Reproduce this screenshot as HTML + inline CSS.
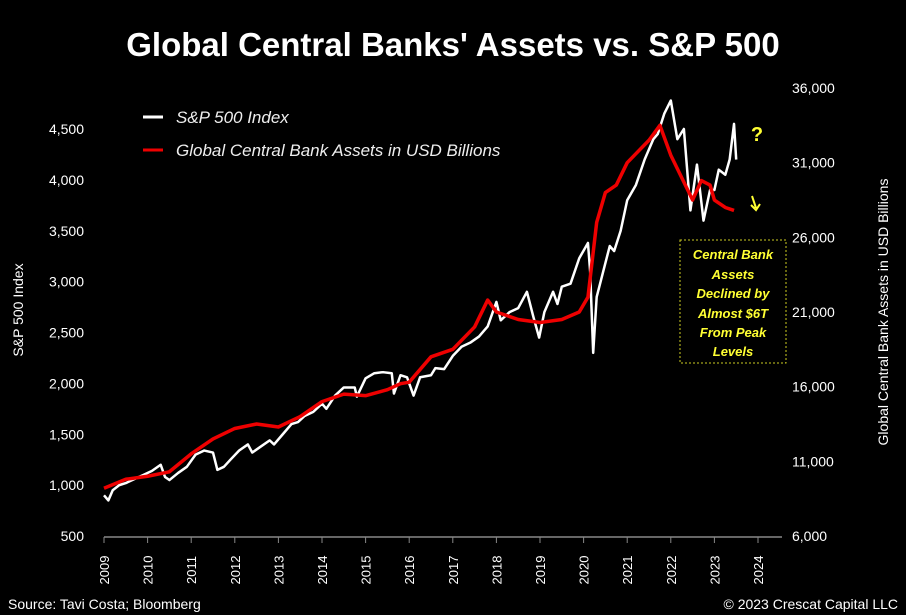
<!DOCTYPE html>
<html><head><meta charset="utf-8"><style>
body{margin:0;background:#000;}
svg{display:block;font-family:"Liberation Sans",sans-serif;}
</style></head><body>
<svg id="c" width="906" height="615" viewBox="0 0 906 615">
<rect width="906" height="615" fill="#000"/>
<text x="453" y="56" fill="#fff" font-size="33" font-weight="bold" text-anchor="middle">Global Central Banks' Assets vs. S&amp;P 500</text>
<g id="axes"></g>
<g id="series"></g>
<line x1="143" y1="117" x2="163" y2="117" stroke="#fff" stroke-width="3"/>
<text x="176" y="123" fill="#eee" font-size="17" font-style="italic">S&amp;P 500 Index</text>
<line x1="143" y1="150" x2="163" y2="150" stroke="#e00" stroke-width="3"/>
<text x="176" y="156" fill="#eee" font-size="17" font-style="italic">Global Central Bank Assets in USD Billions</text>
<text x="757" y="141" fill="#ffff33" font-size="20" font-weight="bold" text-anchor="middle">?</text>
<path d="M752 196 L756 208 M751 205 L756 210 L760 204" stroke="#ffff33" stroke-width="2" fill="none"/>
<rect x="680" y="240" width="106" height="123" fill="none" stroke="#cccc22" stroke-width="1" stroke-dasharray="2,2"/>
<g fill="#ffff33" font-size="13" font-weight="bold" font-style="italic" text-anchor="middle">
<text x="733" y="259">Central Bank</text><text x="733" y="279">Assets</text><text x="733" y="298">Declined by</text><text x="733" y="318">Almost $6T</text><text x="733" y="337">From Peak</text><text x="733" y="356">Levels</text></g>
<text transform="translate(23,310) rotate(-90)" fill="#fff" font-size="14" text-anchor="middle">S&amp;P 500 Index</text>
<text transform="translate(888,312) rotate(-90)" fill="#fff" font-size="14" text-anchor="middle">Global Central Bank Assets in USD Billions</text>
<text x="8" y="609" fill="#fff" font-size="14">Source: Tavi Costa; Bloomberg</text>
<text x="898" y="609" fill="#fff" font-size="14" text-anchor="end">© 2023 Crescat Capital LLC</text>
</svg>
<script>
const years=[2009,2010,2011,2012,2013,2014,2015,2016,2017,2018,2019,2020,2021,2022,2023,2024];
const leftTicks=[500,1000,1500,2000,2500,3000,3500,4000,4500];
const rightTicks=[6000,11000,16000,21000,26000,31000,36000];
const spT=[2009.0,2009.1,2009.2,2009.35,2009.5,2009.7,2009.9,2010.1,2010.3,2010.4,2010.5,2010.7,2010.9,2011.1,2011.3,2011.5,2011.6,2011.75,2011.9,2012.1,2012.3,2012.4,2012.6,2012.8,2012.9,2013.1,2013.3,2013.45,2013.6,2013.8,2014.0,2014.1,2014.3,2014.5,2014.75,2014.8,2015.0,2015.2,2015.4,2015.6,2015.65,2015.8,2015.95,2016.1,2016.25,2016.5,2016.6,2016.8,2017.0,2017.2,2017.4,2017.6,2017.8,2018.0,2018.1,2018.3,2018.5,2018.7,2018.85,2018.98,2019.1,2019.3,2019.4,2019.5,2019.7,2019.9,2020.1,2020.15,2020.22,2020.3,2020.45,2020.6,2020.7,2020.85,2021.0,2021.2,2021.4,2021.6,2021.7,2021.85,2022.0,2022.15,2022.3,2022.45,2022.6,2022.75,2022.9,2023.0,2023.1,2023.25,2023.35,2023.45,2023.5];
const spV=[900,850,950,1000,1020,1060,1100,1140,1200,1080,1050,1120,1180,1300,1340,1320,1150,1180,1250,1340,1400,1320,1380,1440,1400,1500,1600,1620,1680,1720,1800,1750,1880,1960,1960,1870,2050,2100,2110,2100,1900,2080,2060,1880,2060,2080,2150,2140,2270,2360,2400,2460,2560,2800,2620,2700,2740,2900,2650,2450,2700,2900,2780,2950,2980,3230,3380,3100,2300,2850,3100,3350,3300,3500,3800,3950,4200,4400,4450,4650,4780,4400,4500,3700,4150,3600,3900,3900,4100,4050,4200,4550,4200];
const cbT=[2009.0,2009.5,2010.0,2010.5,2011.0,2011.5,2012.0,2012.5,2013.0,2013.5,2014.0,2014.5,2015.0,2015.5,2015.8,2016.0,2016.5,2017.0,2017.5,2017.8,2018.0,2018.5,2019.0,2019.5,2019.9,2020.1,2020.3,2020.5,2020.75,2021.0,2021.5,2021.75,2022.0,2022.25,2022.5,2022.7,2022.9,2023.0,2023.25,2023.45];
const cbV=[9200,9800,10000,10300,11500,12500,13200,13500,13300,14000,15000,15500,15400,15800,16200,16300,18000,18500,20000,21800,21000,20500,20300,20500,21000,22000,27000,29000,29500,31000,32500,33500,31500,30000,28500,29800,29500,28500,28000,27800];
const X=y=>104+(y-2009)*43.6;
const YL=v=>536-(v-500)*0.10175;
const YR=v=>536-(v-6000)*0.014933;
const NS="http://www.w3.org/2000/svg";
const ax=document.getElementById('axes'),se=document.getElementById('series');
function mk(t,a,p){const e=document.createElementNS(NS,t);for(const k in a)e.setAttribute(k,a[k]);p.appendChild(e);return e;}
let l=mk('line',{x1:104,y1:537,x2:782,y2:537,stroke:'#888','stroke-width':1.5},ax);


years.forEach(y=>{
 const t=mk('line',{x1:X(y),y1:537,x2:X(y),y2:543,stroke:'#888'},ax);
 
 
 const tx=mk('text',{transform:`translate(${X(y)+5},570) rotate(-90)`,fill:'#fff','font-size':13,'text-anchor':'middle'},ax);
 tx.textContent=y;
 
 
});
leftTicks.forEach(v=>{
 const tx=mk('text',{x:84,y:YL(v)+5,fill:'#fff','font-size':14,'text-anchor':'end'},ax);
 tx.textContent=v.toLocaleString('en-US');
 
 
});
rightTicks.forEach(v=>{
 const tx=mk('text',{x:792,y:YR(v)+5,fill:'#fff','font-size':14},ax);
 tx.textContent=v.toLocaleString('en-US');
 
 
});
const sp=mk('polyline',{points:spT.map((t,i)=>X(t)+','+YL(spV[i])).join(' '),fill:'none',stroke:'#fff','stroke-width':2.5,'stroke-linejoin':'round'},se);


const cb=mk('polyline',{points:cbT.map((t,i)=>X(t)+','+YR(cbV[i])).join(' '),fill:'none',stroke:'#e00','stroke-width':3.5,'stroke-linejoin':'round'},se);


</script>
</body></html>
